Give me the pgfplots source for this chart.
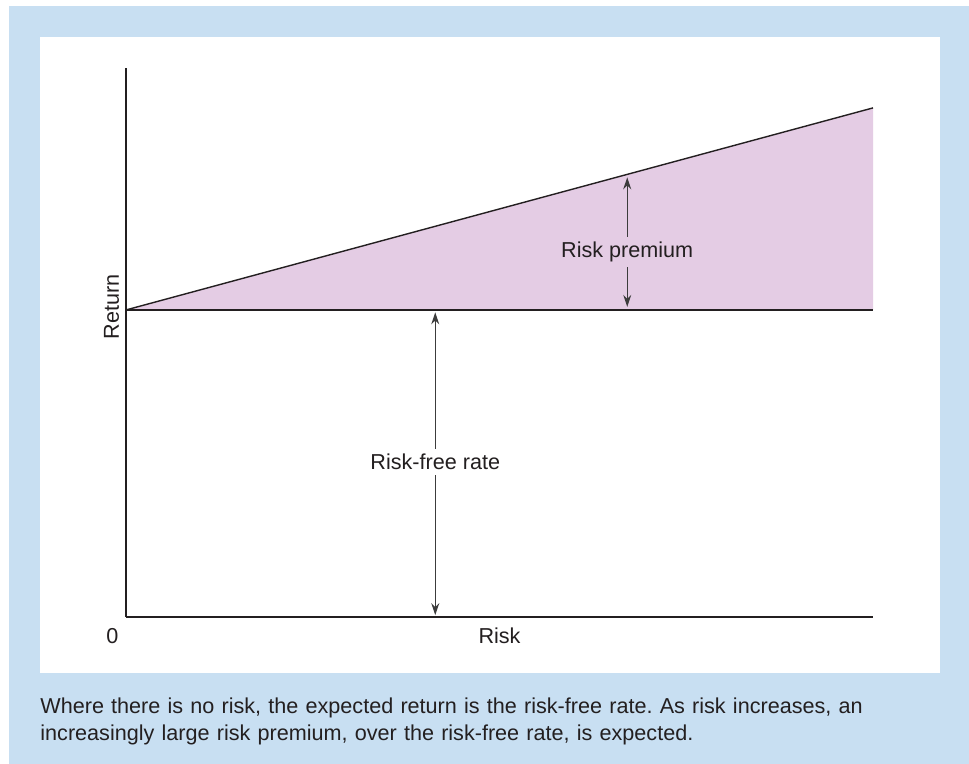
\documentclass[border=0pt]{standalone}
\usepackage{fontspec}
\setmainfont{Liberation Sans}
\usepackage{pgfplots}
\pgfplotsset{compat=1.18}
\usetikzlibrary{arrows.meta}
\definecolor{panelblue}{HTML}{C8DFF2}
\definecolor{premium}{HTML}{E4CCE4}
\definecolor{ink}{HTML}{231F20}
\definecolor{arrowgray}{HTML}{3C3C3C}
\frenchspacing
\begin{document}
\begin{tikzpicture}[font=\fontsize{10.8pt}{13.5pt}\selectfont, text=ink]
  % frame, in pixels of the reference (1px = 0.5pt, y downward)
  \begin{scope}[x=0.5pt, y=-0.5pt]
    \fill[white] (0,0) rectangle (969,764);
    \fill[panelblue] (9,6) rectangle (969,764);
    \fill[white] (40,37) rectangle (940,673);
    \node[anchor=base west, align=left, text width=450pt, inner sep=0pt] at (40,713)
      {Where there is no risk, the expected return is the risk-free rate. As risk increases, an\\
       increasingly large risk premium, over the risk-free rate, is expected.};
  \end{scope}

  \begin{axis}[
      at={(63pt,-308.5pt)}, anchor=south west,
      scale only axis, width=373.5pt, height=274.5pt,
      xmin=0, xmax=10, ymin=0, ymax=8.94,
      axis lines=left,
      axis line style={-, ink, line width=0.7pt},
      xtick=\empty, ytick=\empty,
      clip=false,
    ]
    % shaded risk premium
    \addplot[fill=premium, draw=none] coordinates {(0,5) (10,8.29) (10,5)} -- cycle;
    % expected return and risk-free rate
    \addplot[ink, line width=0.7pt] coordinates {(0,5) (10,8.29)};
    \addplot[ink, line width=0.7pt] coordinates {(0,5) (10,5)};

    % risk premium arrow
    \draw[arrowgray, line width=0.6pt, {Stealth[length=6pt,width=4pt]}-{Stealth[length=6pt,width=4pt]}]
      (axis cs:6.71,5.05) -- (axis cs:6.71,7.16);
    \node[fill=premium, inner sep=2.5pt] at (axis cs:6.71,5.95) {Risk premium};
    % risk-free rate arrow
    \draw[arrowgray, line width=0.6pt, {Stealth[length=6pt,width=4pt]}-{Stealth[length=6pt,width=4pt]}]
      (axis cs:4.14,0.03) -- (axis cs:4.14,4.96);
    \node[fill=white, inner sep=2.5pt] at (axis cs:4.14,2.53) {Risk-free rate};

    % labels
    \node at (axis cs:0,0) [xshift=-6.75pt, yshift=-9.5pt] {0};
    \node at (axis cs:5,0) [yshift=-9.5pt] {Risk};
    \node at (axis cs:0,5) [rotate=90, xshift=1.5pt, yshift=7.25pt] {Return};
  \end{axis}
\end{tikzpicture}
\end{document}
